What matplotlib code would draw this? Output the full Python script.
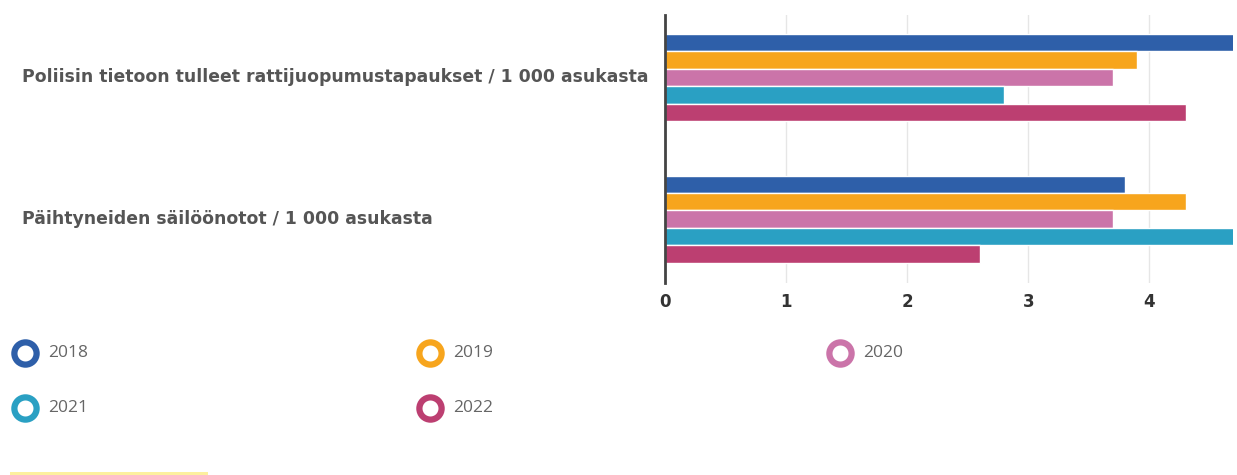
import numpy as np
import matplotlib.pyplot as plt
import matplotlib.transforms as mtransforms
from matplotlib.lines import Line2D
from matplotlib.patches import Rectangle

categories = ["Poliisin tietoon tulleet rattijuopumustapaukset / 1 000 asukasta",
              "Päihtyneiden säilöönotot / 1 000 asukasta"]
years = ["2018", "2019", "2020", "2021", "2022"]
v2018 = [4.7, 3.8]
v2019 = [3.9, 4.3]
v2020 = [3.7, 3.7]
v2021 = [2.8, 4.7]
v2022 = [4.3, 2.6]
series = [v2018, v2019, v2020, v2021, v2022]
colors = ["#2e5fa9", "#f7a51d", "#cb74a9", "#2aa0c3", "#bc3f71"]

fig = plt.figure(figsize=(12.37, 4.75), dpi=100)
ax = fig.add_axes([665 / 1237, 1 - 283 / 475, (1233 - 665) / 1237, (283 - 15) / 475])

y = np.arange(len(categories))
h = 0.123
for i, vals in enumerate(series):
    ax.barh(y + (i - 2) * h, vals, height=h, color=colors[i],
            edgecolor="white", linewidth=1.0, zorder=3)

ax.set_xlim(0, 4.69)
ax.set_ylim(1.45, -0.44)
ax.set_xticks([0, 1, 2, 3, 4])
ax.set_yticks([])
ax.grid(axis="x", color="#e6e6e6", linewidth=1, zorder=0)
for s in ["top", "right", "bottom"]:
    ax.spines[s].set_visible(False)
ax.spines["left"].set_color("#444444")
ax.spines["left"].set_linewidth(2)
ax.spines["left"].set_zorder(4)
ax.tick_params(axis="x", length=0, pad=7, labelsize=12, labelcolor="#333333")
for t in ax.get_xticklabels():
    t.set_fontweight("bold")

# category labels, left aligned
trans = mtransforms.blended_transform_factory(fig.transFigure, ax.transData)
for yi, lab in zip(y, categories):
    ax.text(22 / 1237, yi, lab, transform=trans, ha="left", va="center",
            fontsize=12.4, fontweight="bold", color="#555555")

# legend
lx = [25, 430, 840]
ly = [353, 408]
for i, yr in enumerate(years):
    cx = lx[i % 3] / 1237
    cy = 1 - ly[i // 3] / 475
    fig.add_artist(Line2D([cx], [cy], marker="o", markersize=16, markerfacecolor="white",
                          markeredgecolor=colors[i], markeredgewidth=4.5,
                          transform=fig.transFigure))
    fig.text(cx + 23 / 1237, cy, yr, ha="left", va="center", fontsize=12.5,
             color="#666666", family="Open Sans")

fig.add_artist(Rectangle((10 / 1237, 0), 198 / 1237, 3 / 475, transform=fig.transFigure,
                         color="#fdf09e", linewidth=0))

plt.savefig("out.png", dpi=100)
